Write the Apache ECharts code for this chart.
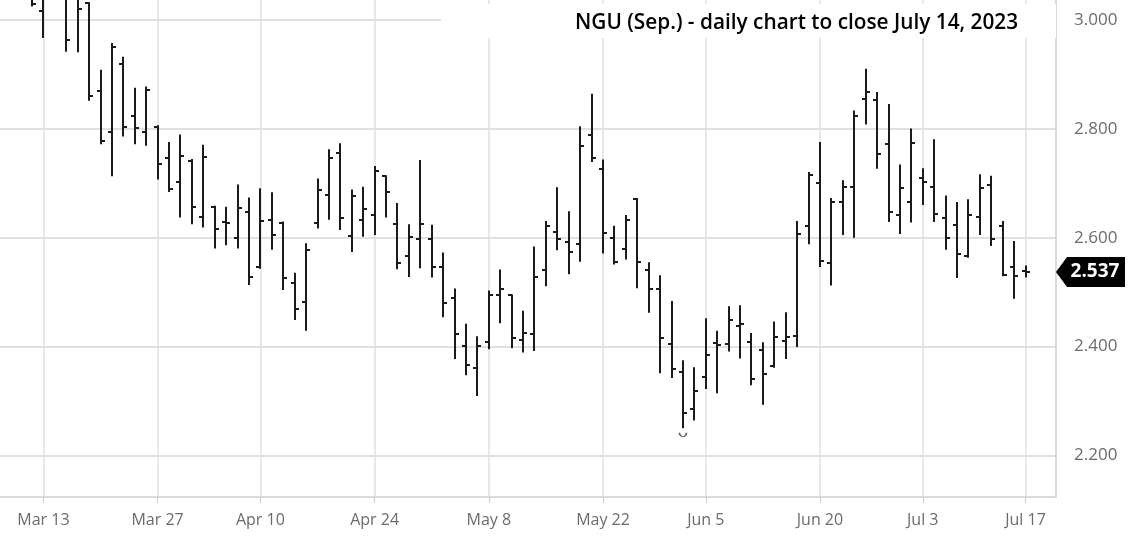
<!DOCTYPE html>
<html>
<head>
<meta charset="utf-8">
<script src="https://cdn.jsdelivr.net/npm/echarts@6/dist/echarts.min.js"></script>
<style>
html,body{margin:0;padding:0;background:#fff;}
#chart{width:1135px;height:536px;}
</style>
</head>
<body>
<div id="chart"></div>
<script>
// Trading days (2023), NGU23 daily bars
const dates = [
  '03-10','03-13','03-14','03-15','03-16','03-17',
  '03-20','03-21','03-22','03-23','03-24',
  '03-27','03-28','03-29','03-30','03-31',
  '04-03','04-04','04-05','04-06',
  '04-10','04-11','04-12','04-13','04-14',
  '04-17','04-18','04-19','04-20','04-21',
  '04-24','04-25','04-26','04-27','04-28',
  '05-01','05-02','05-03','05-04','05-05',
  '05-08','05-09','05-10','05-11','05-12',
  '05-15','05-16','05-17','05-18','05-19',
  '05-22','05-23','05-24','05-25','05-26',
  '05-30','05-31','06-01','06-02',
  '06-05','06-06','06-07','06-08','06-09',
  '06-12','06-13','06-14','06-15','06-16',
  '06-20','06-21','06-22','06-23',
  '06-26','06-27','06-28','06-29','06-30',
  '07-03','07-05','07-06','07-07',
  '07-10','07-11','07-12','07-13','07-14',
  '07-17'
];
const opens = [
  3.082,3.017,3.060,3.070,3.050,3.031,
  2.870,2.795,2.919,2.824,2.794,
  2.803,2.746,2.702,2.742,2.639,
  2.656,2.629,2.600,2.647,
  2.546,2.633,2.627,2.516,2.482,
  2.628,2.678,2.755,2.603,2.632,
  2.641,2.713,2.625,2.567,2.598,
  2.598,2.547,2.489,2.401,2.361,
  2.408,2.494,2.494,2.413,2.424,
  2.540,2.610,2.592,2.589,2.789,
  2.726,2.600,2.579,2.671,2.540,
  2.506,2.405,2.353,2.285,
  2.345,2.407,2.405,2.437,2.409,
  2.393,2.365,2.410,2.419,2.622,
  2.701,2.554,2.666,2.694,
  2.855,2.853,2.773,2.642,2.665,
  2.710,2.694,2.637,2.623,
  2.566,2.639,2.697,2.622,2.546,
  2.539
];
const highs = [
  3.102,3.080,3.120,3.090,3.060,3.032,
  2.908,2.957,2.932,2.875,2.877,
  2.806,2.775,2.789,2.744,2.770,
  2.658,2.656,2.697,2.673,
  2.690,2.683,2.629,2.535,2.589,
  2.708,2.762,2.773,2.688,2.693,
  2.731,2.714,2.663,2.624,2.742,
  2.623,2.572,2.506,2.441,2.418,
  2.502,2.541,2.495,2.465,2.583,
  2.630,2.692,2.648,2.804,2.864,
  2.743,2.621,2.641,2.672,2.554,
  2.530,2.483,2.374,2.361,
  2.451,2.428,2.473,2.475,2.424,
  2.407,2.445,2.462,2.630,2.720,
  2.775,2.672,2.705,2.833,
  2.910,2.867,2.845,2.734,2.800,
  2.727,2.780,2.677,2.665,
  2.670,2.716,2.713,2.630,2.593,
  2.548
];
const lows = [
  3.026,2.968,3.045,2.943,2.942,2.853,
  2.773,2.714,2.787,2.773,2.770,
  2.708,2.685,2.638,2.626,2.620,
  2.581,2.587,2.581,2.514,
  2.544,2.579,2.505,2.450,2.430,
  2.618,2.634,2.615,2.575,2.603,
  2.606,2.638,2.543,2.529,2.545,
  2.528,2.455,2.378,2.348,2.310,
  2.396,2.444,2.398,2.390,2.393,
  2.512,2.578,2.534,2.557,2.740,
  2.572,2.552,2.561,2.508,2.463,
  2.352,2.343,2.251,2.265,
  2.323,2.315,2.392,2.379,2.330,
  2.294,2.362,2.378,2.400,2.589,
  2.547,2.513,2.606,2.601,
  2.809,2.728,2.630,2.608,2.629,
  2.661,2.630,2.579,2.527,
  2.564,2.606,2.586,2.530,2.489,
  2.528
];
const closes = [
  3.029,3.060,3.090,2.963,3.020,2.861,
  2.777,2.951,2.804,2.801,2.872,
  2.736,2.690,2.751,2.656,2.749,
  2.617,2.627,2.655,2.528,
  2.630,2.606,2.526,2.469,2.578,
  2.688,2.746,2.636,2.676,2.653,
  2.723,2.684,2.554,2.601,2.626,
  2.546,2.480,2.423,2.367,2.401,
  2.494,2.506,2.416,2.425,2.528,
  2.621,2.598,2.574,2.769,2.746,
  2.609,2.555,2.633,2.555,2.505,
  2.416,2.359,2.278,2.318,
  2.385,2.403,2.448,2.442,2.341,
  2.349,2.417,2.418,2.607,2.716,
  2.558,2.666,2.694,2.823,
  2.868,2.754,2.647,2.691,2.774,
  2.703,2.644,2.600,2.570,
  2.641,2.692,2.598,2.532,2.530,
  2.537
];
const tickDates  = ['03-13','03-27','04-10','04-24','05-08','05-22','06-05','06-20','07-03','07-17'];
const tickLabels = ['Mar 13','Mar 27','Apr 10','Apr 24','May 8','May 22','Jun 5','Jun 20','Jul 3','Jul 17'];
const lastPrice = 2.537;
const lowMarker = { date: '06-01', price: 2.238 };
const titleText = 'NGU (Sep.) - daily chart to close July 14, 2023';

const chart = echarts.init(document.getElementById('chart'), null, { renderer: 'canvas' });

const ohlc = dates.map((d, i) => [i, opens[i], highs[i], lows[i], closes[i]]);
const tickIdx = tickDates.map(d => dates.indexOf(d));
const labelOf = {};
tickIdx.forEach((ix, k) => { labelOf[ix] = tickLabels[k]; });

const barColor = '#1b1b1b';
const gridColor = '#e0e0e0';
const axisColor = '#cfcfcf';
const labelColor = '#6b6b6b';

chart.setOption({
  animation: false,
  backgroundColor: '#ffffff',
  grid: { left: 0, right: 79, top: 0, bottom: 39, containLabel: false },
  xAxis: {
    type: 'value',
    min: -2.802,
    max: 89.667,
    axisLine: { show: true, onZero: false, lineStyle: { color: axisColor, width: 1.5 } },
    axisTick: { show: true, customValues: tickIdx, length: 6, lineStyle: { color: axisColor, width: 1.2 } },
    axisLabel: {
      customValues: tickIdx,
      formatter: v => labelOf[Math.round(v)] || '',
      color: labelColor, fontFamily: 'Open Sans', fontSize: 16, margin: 15
    },
    splitLine: { show: true, lineStyle: { color: gridColor, width: 1.5 } }
  },
  yAxis: {
    type: 'value',
    position: 'right',
    min: 2.1235,
    max: 3.0371,
    splitNumber: 5,
    minInterval: 0.2,
    maxInterval: 0.2,
    axisLine: { show: true, onZero: false, lineStyle: { color: axisColor, width: 1.5 } },
    axisTick: { show: false },
    axisLabel: {
      formatter: v => v.toFixed(3),
      color: labelColor, fontFamily: 'Open Sans', fontSize: 17, margin: 18,
      showMinLabel: false, showMaxLabel: false
    },
    splitLine: { show: true, showMinLine: false, showMaxLine: false, lineStyle: { color: gridColor, width: 2 } }
  },
  series: [
    {
      type: 'custom',
      name: 'NGU23',
      clip: true,
      data: ohlc,
      renderItem: function (params, api) {
        const i = api.value(0);
        const o = api.coord([i, api.value(1)]);
        const h = api.coord([i, api.value(2)]);
        const l = api.coord([i, api.value(3)]);
        const c = api.coord([i, api.value(4)]);
        const x = Math.round(h[0]);
        const st = { stroke: barColor, lineWidth: 2 };
        return {
          type: 'group',
          children: [
            { type: 'line', shape: { x1: x, y1: h[1] - 0.5, x2: x, y2: l[1] + 0.5 }, style: st },
            { type: 'line', shape: { x1: x - 4, y1: Math.round(o[1]), x2: x, y2: Math.round(o[1]) }, style: st },
            { type: 'line', shape: { x1: x, y1: Math.round(c[1]), x2: x + 4, y2: Math.round(c[1]) }, style: st }
          ]
        };
      },
      z: 5
    },
    {
      type: 'scatter',
      data: [[dates.indexOf(lowMarker.date), lowMarker.price]],
      symbol: 'path://M0,0 A4,4 0 0 0 8,0',
      symbolSize: [7, 4],
      itemStyle: { color: 'rgba(0,0,0,0)', borderColor: '#333', borderWidth: 1.3 },
      silent: true,
      z: 6
    }
  ]
});

const tagY = chart.convertToPixel({ yAxisIndex: 0 }, lastPrice);
chart.setOption({
  graphic: [
    {
      type: 'rect', id: 'titleBg', z: 50,
      shape: { x: 441, y: 4, width: 615, height: 34 },
      style: { fill: '#ffffff' }
    },
    {
      type: 'text', id: 'titleText', z: 51,
      x: 575, y: 23,
      style: { text: titleText, fill: '#000', font: '600 20.8px "Open Sans"', textVerticalAlign: 'middle' }
    },
    {
      type: 'polygon', id: 'tag', z: 50,
      shape: { points: [[1056, tagY], [1067, tagY - 15], [1125, tagY - 15], [1125, tagY + 15], [1067, tagY + 15]] },
      style: { fill: '#000' }
    },
    {
      type: 'text', id: 'tagText', z: 51,
      x: 1095, y: tagY,
      style: { text: lastPrice.toFixed(3), fill: '#fff', font: 'bold 19px "Open Sans"', textAlign: 'center', textVerticalAlign: 'middle' }
    }
  ]
});
</script>
</body>
</html>
